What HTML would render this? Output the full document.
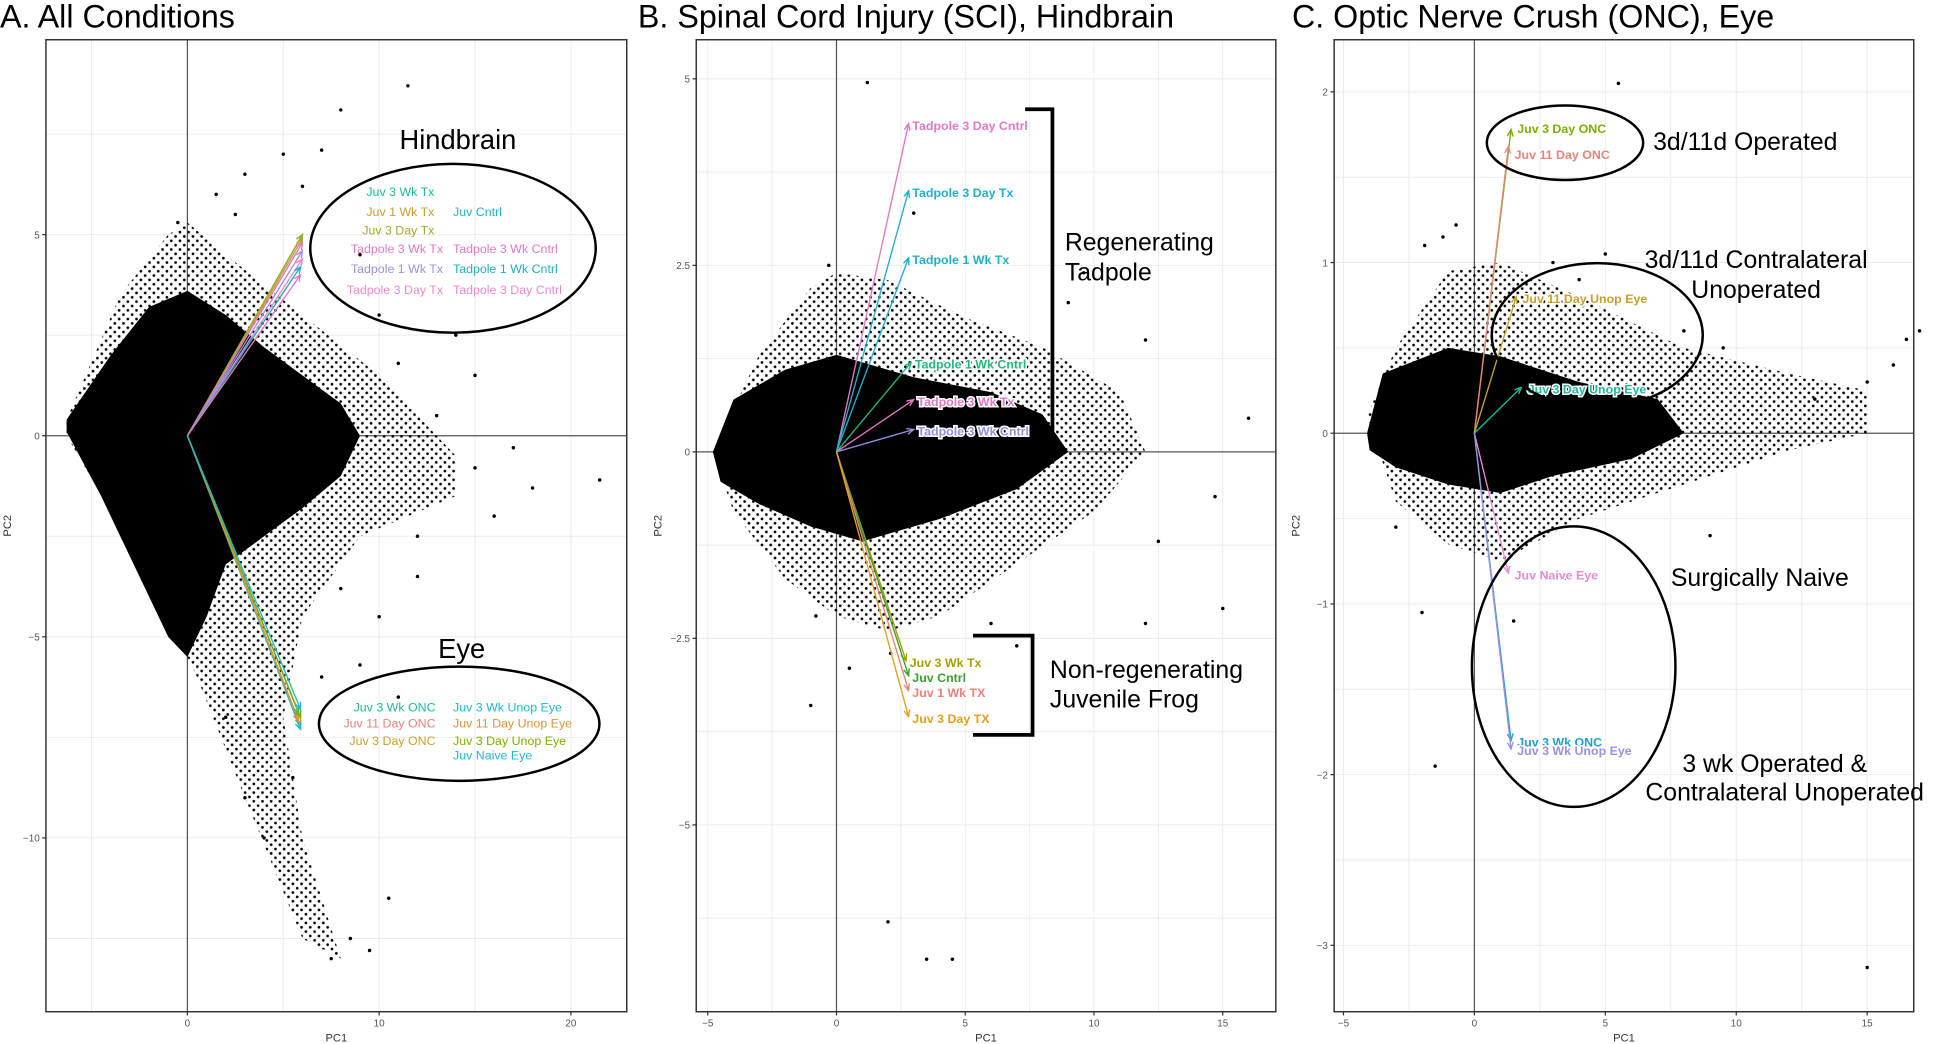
<!DOCTYPE html>
<html><head><meta charset="utf-8"><style>
html,body{margin:0;padding:0;background:#fff;}
svg{display:block;font-family:"Liberation Sans",sans-serif;}
</style></head><body>
<svg id="chart" width="1946" height="1044" viewBox="0 0 1568 841" preserveAspectRatio="none"></svg>
<script>
// ---------- Panel A data ----------
const aXTicks=[0,10,20], aYTicks=[5,0,-5,-10];
const aBlob=[[-6.3,0.4],[-4,2],[-2,3.2],[0,3.6],[2,3],[4,2.2],[6,1.5],[8,0.8],[9,0],[8,-1],[6,-1.8],[4,-2.5],[2,-3.2],[1,-4.5],[0,-5.5],[-1,-5],[-2.5,-3.5],[-4.5,-1.5],[-6.3,0.1]];
const aHalo=[[-6.3,0.4],[-3.5,3.5],[-1,5],[0,5.3],[2,4.5],[6,3],[10,1.5],[14,-0.5],[14,-1.5],[9,-2.5],[6,-4.5],[5,-7],[6,-10],[8,-13],[6,-12.5],[3,-9],[0.5,-6],[-2,-3.5],[-6.3,0]];
const aPtsX=[11.5,8,7,5,3,1.5,-0.5,2.5,6,9,10,14,15,17,18,21.5,16,12,10,9,12,11,8.5,9.5,10.5,7.5,5.5,4,3,2,8,7,13,15,11];
const aPtsY=[8.7,8.1,7.1,7,6.5,6,5.3,5.5,6.2,4.5,3,2.5,1.5,-0.3,-1.3,-1.1,-2,-3.5,-4.5,-5.7,-2.5,-6.5,-12.5,-12.8,-11.5,-13,-8.5,-10,-9,-7,-3.8,-6,0.5,-0.8,1.8];
const aArrX=[6,6,6,6,6,6,5.9,5.9,5.8,5.9,5.9,5.9,5.8,5.9,5.9];
const aArrY=[5.0,4.9,5.0,4.8,4.6,4.4,4.2,4.0,-6.9,-7.0,-7.2,-7.3,-7.1,-7.0,-6.8];
const aArrC=["#1fb89a","#c5a12a","#a5a72a","#e377c2","#9f8fdf","#e88ad0","#1fb0b8","#e377c2","#1fb89a","#e8837a","#c5a12a","#1fb8d0","#e0903a","#7cae00","#1fb8d0"];
// ---------- Panel B data ----------
const bXTicks=[-5,0,5,10,15], bYTicks=[5,2.5,0,-2.5,-5];
const bBlob=[[-4.8,0],[-4,0.7],[-2,1.1],[0,1.3],[3,1.0],[6,0.8],[8,0.5],[9,0],[7,-0.5],[4,-0.9],[1,-1.2],[-1,-1.0],[-3,-0.7],[-4.5,-0.4]];
const bHalo=[[-4.8,0],[-3,1.3],[-1,2.2],[0,2.4],[2,2.3],[5,1.8],[8,1.4],[11,0.8],[12,0],[10,-0.8],[7,-1.5],[4,-2.2],[2,-2.4],[0,-2.2],[-2,-1.7],[-4,-0.8]];
const bPtsX=[1.2,-0.3,3,9,9.6,12,14.7,15,16,0.5,-1,6,7,12.5,-0.8,2,4.5,3.5,2.1,12];
const bPtsY=[4.95,2.5,3.2,2,2.4,1.5,-0.6,-2.1,0.45,-2.9,-3.4,-2.3,-2.6,-1.2,-2.2,-6.3,-6.8,-6.8,-2.7,-2.3];
const bArrX=[2.8,2.8,2.8,2.9,3,3,2.7,2.8,2.8,2.8];
const bArrY=[4.4,3.5,2.6,1.2,0.7,0.3,-2.8,-3.0,-3.2,-3.55];
const bArrC=["#e377c2","#1fb0c8","#1fb0c8","#1fb87a","#e377c2","#8f8fdf","#a5a000","#3aa030","#e8837a","#e0a020"];
const bLab=["Tadpole 3 Day Cntrl","Tadpole 3 Day Tx","Tadpole 1 Wk Tx","Tadpole 1 Wk Cntrl","Tadpole 3 Wk Tx","Tadpole 3 Wk Cntrl","Juv 3 Wk Tx","Juv Cntrl","Juv 1 Wk TX","Juv 3 Day TX"];
// ---------- Panel C data ----------
const cXTicks=[-5,0,5,10,15], cYTicks=[2,1,0,-1,-2,-3];
const cBlob=[[-4.1,0],[-3.5,0.35],[-1,0.5],[1,0.45],[4,0.3],[7,0.2],[8,0],[6,-0.15],[3,-0.25],[1,-0.35],[-1,-0.3],[-3,-0.2],[-4,-0.1]];
const cHalo=[[-4.1,0.1],[-3,0.5],[-1,0.95],[1,1.0],[4,0.8],[8,0.5],[12,0.35],[15,0.25],[15,0],[12,-0.1],[8,-0.3],[4,-0.5],[1,-0.75],[-1,-0.65],[-3,-0.4]];
const cPtsX=[5.5,-0.7,-1.2,-1.9,3,4,5,8,9.5,13,15,16,16.5,17,-1.5,-2,15,1.5,3.5,9,-3];
const cPtsY=[2.05,1.22,1.15,1.1,1.0,0.9,1.05,0.6,0.5,0.2,0.3,0.4,0.55,0.6,-1.95,-1.05,-3.13,-1.1,-0.85,-0.6,-0.55];
const cArrX=[1.4,1.3,1.6,1.8,1.3,1.4,1.4];
const cArrY=[1.78,1.68,0.8,0.27,-0.82,-1.8,-1.85];
const cArrC=["#7cae00","#e8837a","#c5a12a","#1fb89a","#e88ad0","#1fa0d0","#9f8fdf"];
const cLab=["Juv 3 Day ONC","Juv 11 Day ONC","Juv 11 Day Unop Eye","Juv 3 Day Unop Eye","Juv Naive Eye","Juv 3 Wk ONC","Juv 3 Wk Unop Eye"];

const NS="http://www.w3.org/2000/svg", svg=document.getElementById('chart');
function mk(tag,at,parent){const e=document.createElementNS(NS,tag);for(const k in at)e.setAttribute(k,at[k]);(parent||svg).appendChild(e);return e;}
function txt(s,x,y,sz,col,anchor,parent){const t=mk('text',{x:x,y:y,'font-size':sz,fill:col,'text-anchor':anchor||'start'},parent);t.textContent=s;return t;}
const defs=mk('defs',{});
const pat=mk('pattern',{id:'sparse',width:7,height:7,patternUnits:'userSpaceOnUse'},defs);
mk('circle',{cx:1.5,cy:1.5,r:1.1,fill:'#000'},pat);mk('circle',{cx:5,cy:5,r:1.1,fill:'#000'},pat);
function panel(id,box,x0,xs,y0,ys,xt,yt,xGrid,yGrid){
  const g=mk('g',{});
  
  
  const X=v=>x0+v*xs, Y=v=>y0-v*ys;
  mk('rect',{x:box[0],y:box[1],width:box[2]-box[0],height:box[3]-box[1],fill:'#fff'},g);
  xGrid.forEach(v=>{const l=mk('line',{x1:X(v),x2:X(v),y1:box[1],y2:box[3],stroke:'#ebebeb','stroke-width':0.8},g);});
  yGrid.forEach(v=>{const l=mk('line',{y1:Y(v),y2:Y(v),x1:box[0],x2:box[2],stroke:'#ebebeb','stroke-width':0.8},g);});
  mk('line',{x1:X(0),x2:X(0),y1:box[1],y2:box[3],stroke:'#555','stroke-width':1},g);
  mk('line',{y1:Y(0),y2:Y(0),x1:box[0],x2:box[2],stroke:'#555','stroke-width':1},g);
  xt.forEach(v=>{mk('line',{x1:X(v),x2:X(v),y1:box[3],y2:box[3]+3,stroke:'#333'},g);const t=txt(String(v).replace('-','−'),X(v),box[3]+12,8,'#555','middle',g);});
  yt.forEach(v=>{mk('line',{x1:box[0]-3,x2:box[0],y1:Y(v),y2:Y(v),stroke:'#333'},g);const t=txt(String(v).replace('-','−'),box[0]-5,Y(v)+3,8,'#555','end',g);});
  const xl=txt('PC1',(box[0]+box[2])/2,box[3]+24,9,'#333','middle',g);
  const cy=(box[1]+box[3])/2, yl=txt('PC2',box[0]-28,cy,9,'#333','middle',g);yl.setAttribute('transform','rotate(-90 '+(box[0]-28)+' '+cy+')');
  return {g,X,Y};
}
function poly(p,arr,fill,name){const d='M'+arr.map(q=>p.X(q[0])+','+p.Y(q[1])).join('L')+'Z';const e=mk('path',{d:d,fill:fill,'stroke-linejoin':'round'},p.g);}
function blob(p,halo,core){poly(p,halo,'url(#sparse)','scatter-cloud-sparse');poly(p,core,'#000','scatter-cloud-dense');}
function pts(p,xs,ys){xs.forEach((v,i)=>{const c=mk('circle',{cx:p.X(v),cy:p.Y(ys[i]),r:1.4,fill:'#000'},p.g);});}
function arrows(p,xs,ys,cs){xs.forEach((v,i)=>{const x1=p.X(0),y1=p.Y(0),x2=p.X(v),y2=p.Y(ys[i]);const a=Math.atan2(y2-y1,x2-x1),h=6;
  const l=mk('path',{d:`M${x1},${y1}L${x2},${y2}M${x2-h*Math.cos(a-0.4)},${y2-h*Math.sin(a-0.4)}L${x2},${y2}L${x2-h*Math.cos(a+0.4)},${y2-h*Math.sin(a+0.4)}`,stroke:cs[i],'stroke-width':1.1,fill:'none'},p.g);
  });}
function box(p,x,y,w,h){mk('rect',{x:x,y:y,width:w,height:h,fill:'none',stroke:'#333','stroke-width':1.2},p.g);}
function lab(p,s,x,y,c){const t=txt(s,x,y,10,c,'start',p.g);t.setAttribute('font-weight','bold');t.setAttribute('stroke','#fff');t.setAttribute('stroke-width','2.5');t.setAttribute('paint-order','stroke');}

// Panel A
const A=panel('a',[37,32,505,815],151,15.45,351,32.4,aXTicks,aYTicks,[-5,0,5,10,15,20],[7.5,5,2.5,0,-2.5,-5,-7.5,-10,-12.5]);
box(A,37,32,468,783);
blob(A,aHalo,aBlob);pts(A,aPtsX,aPtsY);arrows(A,aArrX,aArrY,aArrC);
mk('ellipse',{cx:365,cy:200,rx:115,ry:68,fill:'none',stroke:'#000','stroke-width':2},A.g);
mk('ellipse',{cx:370,cy:583,rx:113,ry:46,fill:'none',stroke:'#000','stroke-width':2},A.g);
txt('Hindbrain',369,120,22,'#000','middle',A.g);txt('Eye',372,530,22,'#000','middle',A.g);
[['Juv 3 Wk Tx',350,158,'#1fb89a'],['Juv 1 Wk Tx',350,174,'#c5a12a'],['Juv 3 Day Tx',350,189,'#a5a72a'],['Tadpole 3 Wk Tx',357,204,'#e377c2'],['Tadpole 1 Wk Tx',357,220,'#9f8fdf'],['Tadpole 3 Day Tx',357,237,'#e88ad0']].forEach(r=>txt(r[0],r[1],r[2],10,r[3],'end',A.g));
[['Juv Cntrl',365,174,'#1fb0c8'],['Tadpole 3 Wk Cntrl',365,204,'#e377c2'],['Tadpole 1 Wk Cntrl',365,220,'#1fb0b8'],['Tadpole 3 Day Cntrl',365,237,'#e88ad0']].forEach(r=>txt(r[0],r[1],r[2],10,r[3],'start',A.g));
[['Juv 3 Wk ONC',351,573,'#1fb89a'],['Juv 11 Day ONC',351,586,'#e8837a'],['Juv 3 Day ONC',351,600,'#c5a12a']].forEach(r=>txt(r[0],r[1],r[2],10,r[3],'end',A.g));
[['Juv 3 Wk Unop Eye',365,573,'#1fb8d0'],['Juv 11 Day Unop Eye',365,586,'#e0903a'],['Juv 3 Day Unop Eye',365,600,'#7cae00'],['Juv Naive Eye',365,612,'#1fb8d0']].forEach(r=>txt(r[0],r[1],r[2],10,r[3],'start',A.g));
txt('A. All Conditions',0,22,26,'#000','start');

// Panel B
const B=panel('b',[561,32,1028,815],674,20.75,364,60.1,bXTicks,bYTicks,[-5,-2.5,0,2.5,5,7.5,10,12.5,15],[5,3.75,2.5,1.25,0,-1.25,-2.5,-3.75,-5,-6.25]);
box(B,561,32,467,783);
blob(B,bHalo,bBlob);pts(B,bPtsX,bPtsY);arrows(B,bArrX,bArrY,bArrC);
bArrX.forEach((v,i)=>lab(B,bLab[i],B.X(v)+3,B.Y(bArrY[i])+5,bArrC[i]));
mk('path',{d:'M826,88H848V358H826M784,512H832V592H784',fill:'none',stroke:'#000','stroke-width':3},B.g);
txt('Regenerating',858,202,20,'#000','start',B.g);txt('Tadpole',858,226,20,'#000','start',B.g);
txt('Non-regenerating',846,546,20,'#000','start',B.g);txt('Juvenile Frog',846,570,20,'#000','start',B.g);
txt('B. Spinal Cord Injury (SCI), Hindbrain',514,22,26,'#000','start');

// Panel C
const C=panel('c',[1075,32,1542,815],1188,21.1,349,137.5,cXTicks,cYTicks,[-5,-2.5,0,2.5,5,7.5,10,12.5,15],[2,1.5,1,0.5,0,-0.5,-1,-1.5,-2,-2.5,-3]);
box(C,1075,32,467,783);
blob(C,cHalo,cBlob);pts(C,cPtsX,cPtsY);arrows(C,cArrX,cArrY,cArrC);
cArrX.forEach((v,i)=>lab(C,cLab[i],C.X(v)+5,C.Y(cArrY[i])+(i==0?3:i==1?10:5),cArrC[i]));
mk('ellipse',{cx:1261,cy:115,rx:63,ry:30,fill:'none',stroke:'#000','stroke-width':2},C.g);
mk('ellipse',{cx:1287,cy:270,rx:85,ry:58,fill:'none',stroke:'#000','stroke-width':2},C.g);
mk('ellipse',{cx:1268,cy:537,rx:82,ry:113,fill:'none',stroke:'#000','stroke-width':2},C.g);
txt('3d/11d Operated',1332,121,20,'#000','start',C.g);
txt('3d/11d Contralateral',1415,216,20,'#000','middle',C.g);txt('Unoperated',1415,240,20,'#000','middle',C.g);
txt('Surgically Naive',1418,472,20,'#000','middle',C.g);
txt('3 wk Operated &',1430,622,20,'#000','middle',C.g);txt('Contralateral Unoperated',1438,645,20,'#000','middle',C.g);
txt('C. Optic Nerve Crush (ONC), Eye',1041,22,26,'#000','start');
</script>
</body></html>
